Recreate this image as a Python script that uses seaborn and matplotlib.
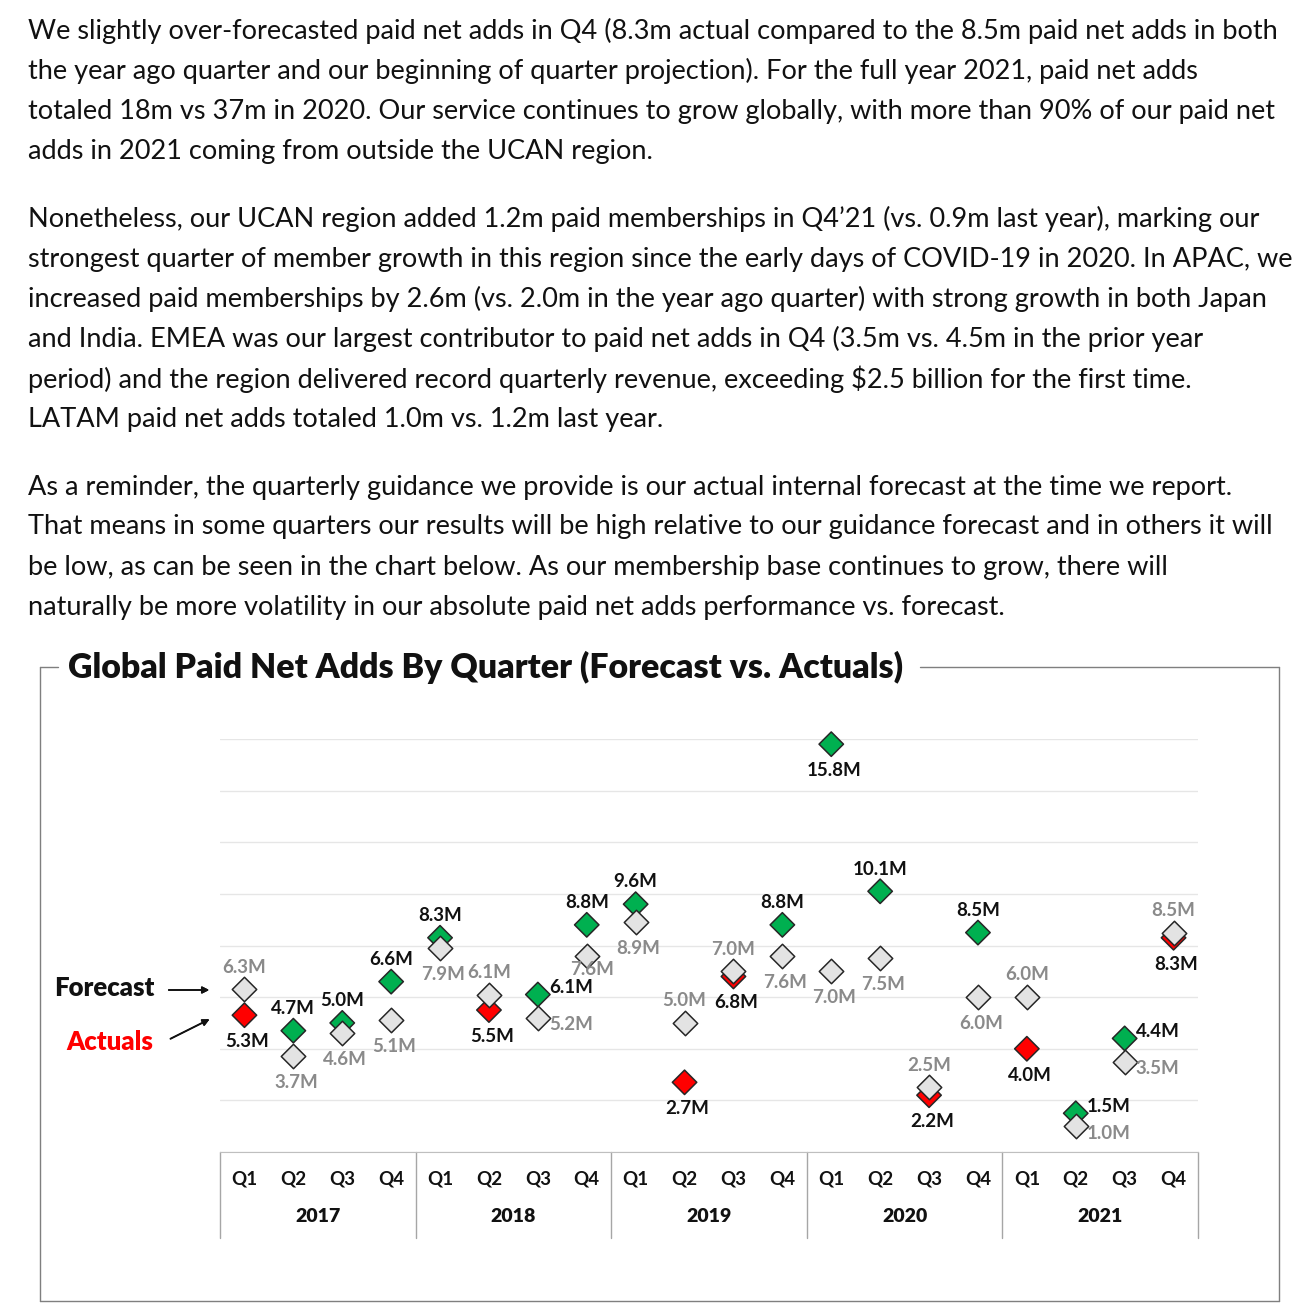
import numpy as np
import pandas as pd

import matplotlib
matplotlib.use("Agg")
import matplotlib.pyplot as plt
import seaborn as sns
from matplotlib.lines import Line2D
from matplotlib.transforms import blended_transform_factory


W, H = 1310, 1316

years = ["2017", "2018", "2019", "2020", "2021"]
quarters = ["Q1", "Q2", "Q3", "Q4"]

# paid net adds in millions, 2017 Q1 .. 2021 Q4
forecast = [6.3, 3.7, 4.6, 5.1, 7.9, 6.1, 5.2, 7.6, 8.9, 5.0,
            7.0, 7.6, 7.0, 7.5, 2.5, 6.0, 6.0, 1.0, 3.5, 8.5]
actual = [5.3, 4.7, 5.0, 6.6, 8.3, 5.5, 6.1, 8.8, 9.6, 2.7,
          6.8, 8.8, 15.8, 10.1, 2.2, 8.5, 4.0, 1.5, 4.4, 8.3]

# where each value label sits
actual_side = ["below", "above", "above", "above", "above", "below", "right", "above",
               "above", "below", "below", "above", "below", "above", "below", "above",
               "below", "right", "right", "below"]
forecast_side = ["above", "below", "below", "below", "below", "above", "right", "near",
                 "below", "above", "above", "below", "below", "below", "above", "below",
                 "above", "right", "right", "above"]

paragraphs = [
    ["We slightly over-forecasted paid net adds in Q4 (8.3m actual compared to the 8.5m paid net adds in both",
     "the year ago quarter and our beginning of quarter projection). For the full year 2021, paid net adds",
     "totaled 18m vs 37m in 2020. Our service continues to grow globally, with more than 90% of our paid net",
     "adds in 2021 coming from outside the UCAN region."],
    ["Nonetheless, our UCAN region added 1.2m paid memberships in Q4\u201921 (vs. 0.9m last year), marking our",
     "strongest quarter of member growth in this region since the early days of COVID-19 in 2020. In APAC, we",
     "increased paid memberships by 2.6m (vs. 2.0m in the year ago quarter) with strong growth in both Japan",
     "and India. EMEA was our largest contributor to paid net adds in Q4 (3.5m vs. 4.5m in the prior year",
     "period) and the region delivered record quarterly revenue, exceeding \\$2.5 billion for the first time.",
     "LATAM paid net adds totaled 1.0m vs. 1.2m last year."],
    ["As a reminder, the quarterly guidance we provide is our actual internal forecast at the time we report.",
     "That means in some quarters our results will be high relative to our guidance forecast and in others it will",
     "be low, as can be seen in the chart below. As our membership base continues to grow, there will",
     "naturally be more volatility in our absolute paid net adds performance vs. forecast."],
]
paragraph_top = [31, 219, 487]

TITLE = "Global Paid Net Adds By Quarter (Forecast vs. Actuals)"

GREEN = "#00B050"
RED = "#FF0000"
GREY_FILL = "#E3E3E3"
GREY_TEXT = "#8A8A8A"
EDGE = "#262626"
FONT = "Lato"


def fx(px):
    return px / W


def fy(py):
    return 1 - py / H


def main():

    sns.set_style("white")
    plt.rcParams["font.family"] = [FONT, "DejaVu Sans"]

    n = len(actual)
    df = pd.DataFrame({
        "idx": np.arange(n),
        "forecast": forecast,
        "actual": actual,
    })
    df["result"] = np.where(df["actual"] >= df["forecast"], "beat", "miss")

    fig = plt.figure(figsize=(W / 100, H / 100), dpi=100)
    renderer = fig.canvas.get_renderer()

    # text above the chart
    lines = []
    for para, top in zip(paragraphs, paragraph_top):
        for i, line in enumerate(para):
            t = fig.text(fx(28), fy(top + 40 * i), line, fontsize=17,
                         va="center", ha="left", color="#111111")
            lines.append(t)
    ref = lines[11]
    scale = 1247 / ref.get_window_extent(renderer).width
    for t in lines:
        t.set_fontsize(17 * scale)

    # frame round the chart with the title breaking its top edge
    title = fig.text(fx(68), fy(667), TITLE, fontsize=21, fontweight="heavy",
                     va="center", ha="left", color="#111111")
    tw = title.get_window_extent(renderer).width
    title.set_fontsize(21 * 832 / tw)

    frame = dict(color="#7F7F7F", lw=1.0, transform=fig.transFigure)
    for xs, ys in [((40, 58), (667, 667)), ((920, 1279), (667, 667)),
                   ((40, 40), (667, 1301)), ((1279, 1279), (667, 1301)),
                   ((40, 1279), (1301, 1301))]:
        fig.add_artist(Line2D([fx(x) for x in xs], [fy(y) for y in ys], **frame))

    # plot area
    ax = fig.add_axes([fx(220), fy(1152), fx(1198) - fx(220), (1152 - 739) / H])
    ax.set_xlim(-0.5, n - 0.5)
    ax.set_ylim(0, 16)
    ax.set_yticks(np.arange(0, 17, 2))
    ax.yaxis.grid(True, color="#E6E6E6", lw=1.0)
    ax.set_axisbelow(True)
    ax.tick_params(axis="y", left=False, labelleft=False)
    for s in ["top", "left", "right"]:
        ax.spines[s].set_visible(False)
    ax.spines["bottom"].set_color("#BFBFBF")

    sns.scatterplot(data=df, x="idx", y="actual", hue="result",
                    palette={"beat": GREEN, "miss": RED}, marker="D", s=155,
                    edgecolor=EDGE, linewidth=1.1, legend=False, zorder=3,
                    clip_on=False, ax=ax)
    sns.scatterplot(data=df, x="idx", y="forecast", color=GREY_FILL, marker="D",
                    s=155, edgecolor=EDGE, linewidth=1.1, legend=False, zorder=4,
                    clip_on=False, ax=ax)

    # value labels
    def put(x, v, side, color, is_actual):
        if side == "above":
            off, ha = (0, 16), "center"
        elif side == "below":
            off, ha = (2, -19), "center"
        elif side == "near":
            off, ha = (4, -10), "center"
        else:
            off, ha = (8, 5 if is_actual else -5), "left"
        ax.annotate(f"{v:.1f}M", (x, v), xytext=off, textcoords="offset points",
                    ha=ha, va="center", fontsize=13.5, fontweight="bold",
                    color=color, zorder=5, annotation_clip=False)

    for i in range(n):
        put(i, actual[i], actual_side[i], "#111111", True)
        put(i, forecast[i], forecast_side[i], GREY_TEXT, False)

    # quarter and year axis
    ax.set_xticks(np.arange(n))
    ax.set_xticklabels(quarters * len(years))
    ax.set_xticks(np.arange(n + 1) - 0.5, minor=True)
    ax.tick_params(axis="x", which="major", length=0, pad=13, labelsize=13.5,
                   labelcolor="#111111")
    ax.tick_params(axis="x", which="minor", length=5, color="#BFBFBF", width=1)
    for lab in ax.get_xticklabels():
        lab.set_fontweight("bold")
    ax.set_xlabel("")
    ax.set_ylabel("")

    trans = blended_transform_factory(ax.transData, ax.transAxes)
    for k, yr in enumerate(years):
        ax.text(4 * k + 1.5, -65 / 413, yr, transform=trans, ha="center",
                va="center", fontsize=14, fontweight="heavy", color="#111111")
    for k in range(len(years) + 1):
        ax.plot([4 * k - 0.5, 4 * k - 0.5], [0, -86 / 413], transform=trans,
                color="#A6A6A6", lw=1.0, clip_on=False)

    # legend-like callouts on the left
    fig.text(fx(104), fy(988), "Forecast", fontsize=18.5, fontweight="heavy",
             ha="center", va="center", color="#111111")
    fig.text(fx(110), fy(1042), "Actuals", fontsize=18.5, fontweight="heavy",
             ha="center", va="center", color=RED)
    arrow = dict(arrowstyle="-|>", color="#111111", lw=1.2, mutation_scale=10)
    fig.add_artist(plt.annotate("", xy=(fx(212), fy(990)), xytext=(fx(166), fy(990)),
                                xycoords=fig.transFigure, arrowprops=arrow))
    fig.add_artist(plt.annotate("", xy=(fx(212), fy(1018)), xytext=(fx(168), fy(1040)),
                                xycoords=fig.transFigure, arrowprops=arrow))

    fig.savefig("out.png", dpi=100)
    plt.close(fig)


if __name__ == "__main__":
    main()
